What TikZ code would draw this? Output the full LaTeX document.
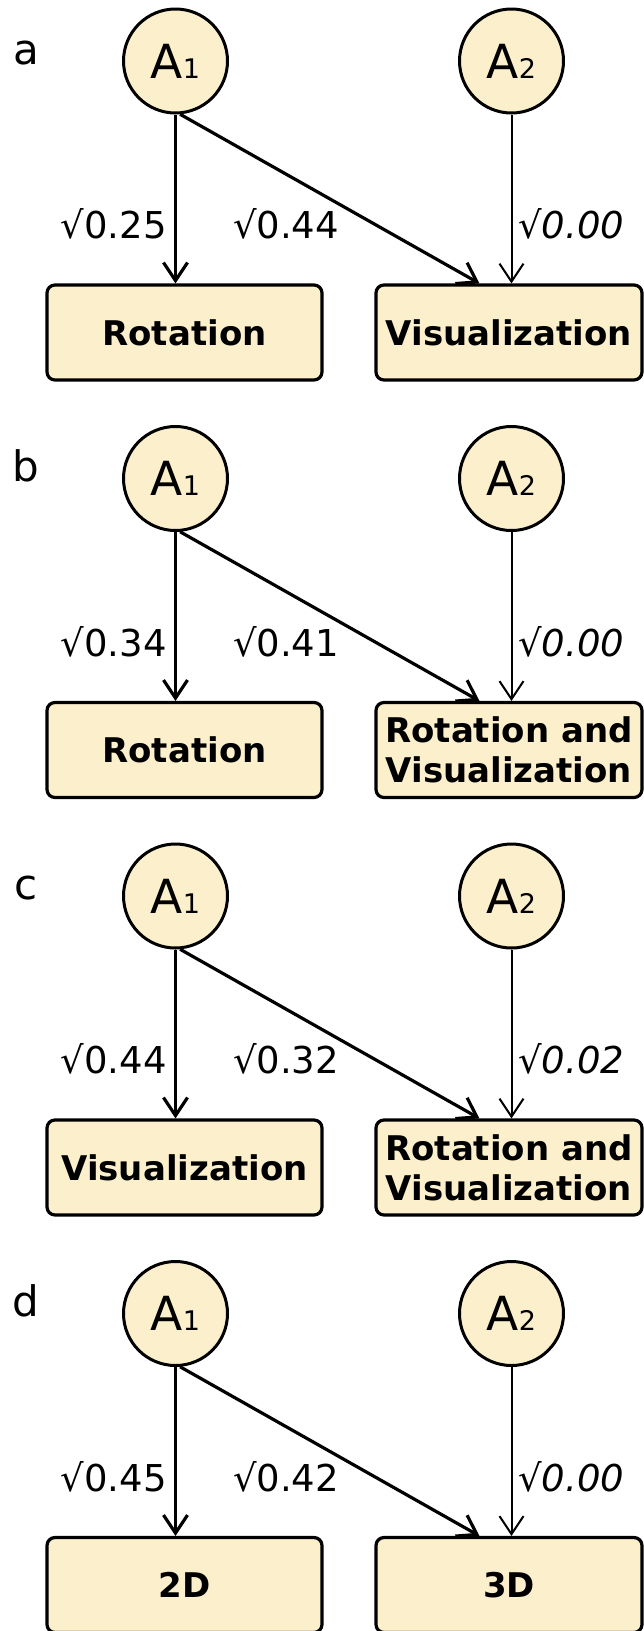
\documentclass[tikz,border=0pt]{standalone}
\usepackage{fontspec}
\setmainfont{DejaVu Sans}[ItalicFont={DejaVu Sans Oblique},BoldFont={DejaVu Sans Bold}]
\usetikzlibrary{arrows.meta,calc}
\definecolor{beige}{RGB}{252,240,204}
\tikzset{
 latent/.style={circle,draw,fill=beige,line width=3pt,minimum size=104pt,inner sep=0pt},
 obs/.style={rectangle,rounded corners=8pt,draw,fill=beige,line width=3.2pt,minimum height=95pt,align=center,inner sep=0pt,font=\fontsize{34}{40}\selectfont\bfseries},
 lpath/.style={line width=3.2pt,-{Straight Barb[length=18pt,width=24pt]}},
 rpath/.style={line width=2pt,-{Straight Barb[length=18pt,width=24pt]}},
 lab/.style={font=\fontsize{37}{44}\selectfont,inner sep=0pt},
 plet/.style={font=\fontsize{42}{48}\selectfont,inner sep=0pt,anchor=base},
}
\newcommand\Aname[1]{\fontsize{47}{52}\selectfont A\fontsize{27}{30}\selectfont #1}
\newcommand\mypanel[8]{%
\begin{scope}[shift={(0,#3)}]
\node[plet] (P#1) at (26,64) {#2};
\node[latent] (A#1) at (175.5,61) {\Aname{1}};
\node[latent] (B#1) at (511.5,61) {\Aname{2}};
\node[obs,minimum width=275pt] (L#1) at (184.5,332.5) {#4};
\node[obs,minimum width=266pt] (R#1) at (509,332.5) {#5};
\draw[lpath] (A#1.south) -- (A#1.south |- L#1.north);
\draw[lpath] (A#1.-85) -- ([xshift=105pt]R#1.north west);
\draw[rpath] (B#1.south) -- (B#1.south |- R#1.north);
\node[lab,anchor=east] (X#1) at (167,224) {√#6};
\node[lab] (Y#1) at (286,224) {√#7};
\node[lab,anchor=west] (Z#1) at (518,224) {√\itshape #8};
\end{scope}}
\begin{document}
\begin{tikzpicture}[x=1pt,y=-1pt]
\fill[white] (0,0) rectangle (644,1631);
\useasboundingbox (0,0) rectangle (644,1631);
\mypanel{a}{a}{0}{Rotation}{Visualization}{0.25}{0.44}{0.00}
\mypanel{b}{b}{417.5}{Rotation}{Rotation and\\Visualization}{0.34}{0.41}{0.00}
\mypanel{c}{c}{835}{Visualization}{Rotation and\\Visualization}{0.44}{0.32}{0.02}
\mypanel{d}{d}{1252.5}{2D}{3D}{0.45}{0.42}{0.00}
\end{tikzpicture}
\end{document}
